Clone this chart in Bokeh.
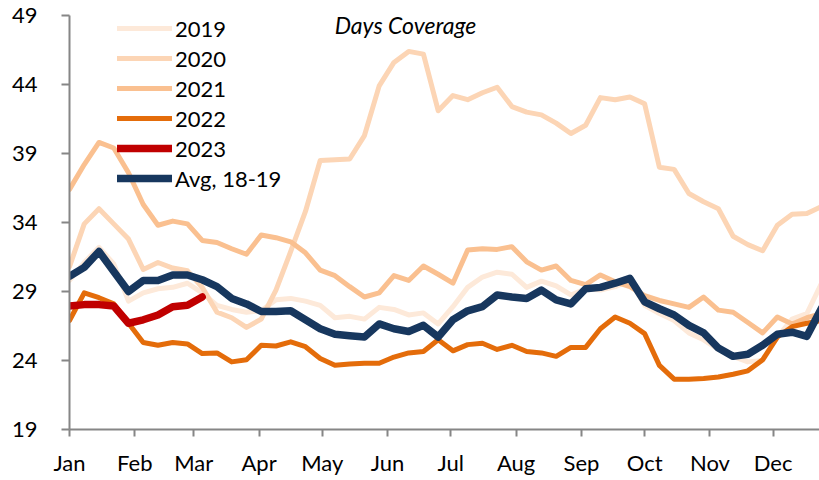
from bokeh.plotting import figure
from bokeh.models import Range1d, Legend, LegendItem, Label, FixedTicker
from bokeh.embed import file_html
from bokeh.resources import INLINE

weeks = list(range(52))
month_labels = ["Jan", "Feb", "Mar", "Apr", "May", "Jun", "Jul", "Aug", "Sep", "Oct", "Nov", "Dec"]
month_start_days = [0, 31, 59, 90, 120, 151, 181, 212, 243, 273, 304, 334]
y_ticks = [19, 24, 29, 34, 39, 44, 49]

s2019 = [29.8, 31.1, 32.2, 31.0, 28.3, 28.9, 29.2, 29.3, 29.6, 28.9,
         28.0, 27.7, 27.5, 27.6, 28.4, 28.5, 28.3, 28.0, 27.1, 27.2,
         27.0, 27.85, 27.7, 27.3, 27.45, 26.65, 27.9, 29.3, 30.05, 30.4,
         30.25, 29.3, 29.75, 29.4, 28.75, 29.2, 29.1, 29.35, 29.8, 28.0,
         27.4, 26.9, 26.0, 25.5, 24.8, 24.3, 23.9, 24.0, 25.7, 27.0,
         27.4, 29.6]
s2020 = [30.8, 33.9, 35.0, 33.9, 32.8, 30.6, 31.1, 30.7, 30.5, 29.3,
         27.5, 27.1, 26.4, 27.0, 29.1, 31.9, 34.8, 38.5, 38.55, 38.6,
         40.3, 43.9, 45.6, 46.4, 46.2, 42.1, 43.2, 42.9, 43.4, 43.8,
         42.4, 42.0, 41.8, 41.2, 40.45, 41.05, 43.05, 42.9, 43.1, 42.6,
         38.0, 37.85, 36.1, 35.5, 35.0, 33.0, 32.4, 31.95, 33.8, 34.6,
         34.65, 35.15]
s2021 = [36.4, 38.2, 39.8, 39.4, 37.6, 35.3, 33.8, 34.1, 33.9, 32.7,
         32.55, 32.1, 31.7, 33.1, 32.9, 32.6, 31.8, 30.55, 30.15, 29.35,
         28.6, 28.9, 30.15, 29.8, 30.85, 30.25, 29.6, 32.0, 32.1, 32.05,
         32.25, 31.15, 30.55, 30.85, 29.8, 29.5, 30.2, 29.7, 29.35, 28.7,
         28.35, 28.1, 27.85, 28.6, 27.65, 27.5, 26.75, 26.0, 27.15, 26.65,
         27.1, 27.4]
s2022 = [26.9, 28.9, 28.55, 28.1, 26.7, 25.3, 25.1, 25.3, 25.2, 24.5,
         24.55, 23.9, 24.05, 25.1, 25.05, 25.35, 25.0, 24.15, 23.65, 23.75,
         23.8, 23.8, 24.25, 24.55, 24.65, 25.5, 24.7, 25.15, 25.25, 24.8,
         25.1, 24.65, 24.55, 24.3, 24.95, 24.95, 26.3, 27.15, 26.7, 25.95,
         23.65, 22.65, 22.65, 22.7, 22.8, 23.0, 23.25, 24.05, 25.7, 26.45,
         26.7, 26.9]
s2023 = [27.95, 28.05, 28.05, 27.95, 26.7, 26.95, 27.3, 27.9, 28.0, 28.6]
avg_18_19 = [30.1, 30.75, 31.9, 30.45, 29.0, 29.8, 29.8, 30.2, 30.2, 29.85,
             29.35, 28.5, 28.1, 27.55, 27.55, 27.6, 26.95, 26.3, 25.9, 25.8,
             25.7, 26.65, 26.3, 26.1, 26.55, 25.7, 26.95, 27.6, 27.9, 28.75,
             28.6, 28.5, 29.1, 28.4, 28.1, 29.2, 29.3, 29.6, 29.95, 28.25,
             27.75, 27.3, 26.55, 26.0, 24.9, 24.3, 24.45, 25.1, 25.9, 26.05,
             25.75, 27.8]

series_names = ["2019", "2020", "2021", "2022", "2023", "Avg, 18-19"]
series_values = [s2019, s2020, s2021, s2022, s2023, avg_18_19]
series_colors = ["#FDE9D9", "#FCD5B5", "#FAC090", "#E46C0A", "#C00000", "#17375E"]
series_widths = [5, 5, 5, 5, 7.5, 7.5]

FONT = "Lato"
AXIS_GRAY = "#868686"

p = figure(width=819, height=480, output_backend="svg", toolbar_location=None,
           x_range=Range1d(0, 356), y_range=Range1d(19, 49),
           min_border_left=69, min_border_right=0, min_border_top=15, min_border_bottom=51)
p.outline_line_color = None
p.xgrid.visible = False
p.ygrid.visible = False
p.background_fill_color = "white"
p.border_fill_color = "white"

items = []
for name, vals, col, w in zip(series_names, series_values, series_colors, series_widths):
    xs = [7 * k for k in weeks[:len(vals)]]
    r = p.line(xs, vals, line_color=col, line_width=w, line_join="round", line_cap="round")
    items.append(LegendItem(label=name, renderers=[r]))

legend = Legend(items=items, location=(48, 236))
legend.background_fill_alpha = 0
legend.border_line_color = None
legend.padding = 0
legend.margin = 0
legend.spacing = 0
legend.glyph_width = 55
legend.glyph_height = 30
legend.label_height = 30
legend.label_standoff = 3
legend.label_text_font = FONT
legend.label_text_font_size = "22px"
legend.label_text_color = "black"
p.add_layout(legend)

title = Label(x=336, y=405, x_units="screen", y_units="screen", text="Days Coverage",
              text_font=FONT, text_font_size="23px", text_font_style="italic",
              text_align="center", text_baseline="alphabetic", text_color="black")
p.add_layout(title)

p.xaxis.ticker = FixedTicker(ticks=month_start_days)
p.xaxis.major_label_overrides = {d: m for d, m in zip(month_start_days, month_labels)}
p.yaxis.ticker = FixedTicker(ticks=y_ticks)

for ax in (p.xaxis[0], p.yaxis[0]):
    ax.axis_line_color = AXIS_GRAY
    ax.axis_line_width = 2
    ax.major_tick_line_color = AXIS_GRAY
    ax.major_tick_line_width = 2
    ax.major_tick_in = 0
    ax.minor_tick_line_color = None
    ax.major_label_text_font = FONT
    ax.major_label_text_font_size = "22px"
    ax.major_label_text_color = "black"

p.xaxis.major_tick_out = 7
p.xaxis.major_label_standoff = 12
p.yaxis.major_tick_out = 8
p.yaxis.major_label_standoff = 24

open("out.html", "w").write(file_html(p, INLINE))
